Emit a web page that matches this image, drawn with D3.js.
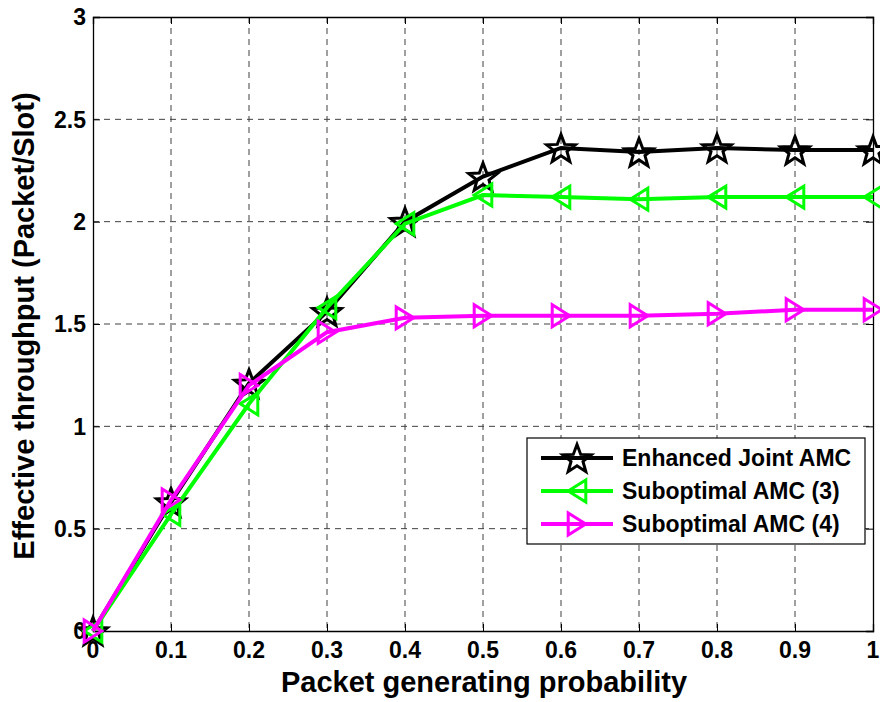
<!DOCTYPE html>
<html>
<head>
<meta charset="UTF-8">
<script src="https://cdn.jsdelivr.net/npm/d3@7"></script>
<style>
  body { margin: 0; background: #fff; }
  text { font-family: "Liberation Sans", Arial, sans-serif; font-weight: bold; }
</style>
</head>
<body>
<svg width="880" height="702"></svg>
<script>
// data
var prob = [0, 0.1, 0.2, 0.3, 0.4, 0.5, 0.6, 0.7, 0.8, 0.9, 1];
var enhanced = [0, 0.63, 1.21, 1.56, 2.0, 2.22, 2.36, 2.34, 2.36, 2.35, 2.35];
var subopt3 = [0, 0.57, 1.11, 1.58, 1.99, 2.13, 2.12, 2.11, 2.12, 2.12, 2.12];
var subopt4 = [0, 0.64, 1.20, 1.46, 1.53, 1.54, 1.54, 1.54, 1.55, 1.57, 1.57];
var xTicks = [0, 0.1, 0.2, 0.3, 0.4, 0.5, 0.6, 0.7, 0.8, 0.9, 1];
var yTicks = [0, 0.5, 1, 1.5, 2, 2.5, 3];
var names = ["Enhanced Joint AMC", "Suboptimal AMC (3)", "Suboptimal AMC (4)"];

var marge = {top: 17, left: 93, right: 7, bottom: 71};
var svg = d3.select("svg");
var width = +svg.attr("width"), height = +svg.attr("height");
var w = width - marge.left - marge.right;   // 780
var h = height - marge.top - marge.bottom;  // 614

var x = d3.scaleLinear().domain([0, 1]).range([0, w]);
var y = d3.scaleLinear().domain([0, 3]).range([h, 0]);

var g = svg.append("g").attr("transform", "translate(" + marge.left + "," + marge.top + ")");

// grid
g.selectAll(".gx").data(xTicks.slice(1, -1)).enter().append("line")
  .attr("x1", d => x(d)).attr("x2", d => x(d)).attr("y1", 0).attr("y2", h)
  .attr("stroke", "#404040").attr("stroke-width", 1).attr("stroke-dasharray", "6,5");
g.selectAll(".gy").data(yTicks.slice(1, -1)).enter().append("line")
  .attr("x1", 0).attr("x2", w).attr("y1", d => y(d)).attr("y2", d => y(d))
  .attr("stroke", "#404040").attr("stroke-width", 1).attr("stroke-dasharray", "6,5");

// axes (ticks inward, MATLAB style); labels drawn separately below
g.append("g").attr("transform", "translate(0," + h + ")")
  .call(d3.axisBottom(x).tickValues(xTicks).tickSize(-7).tickFormat(""));
g.append("g")
  .call(d3.axisLeft(y).tickValues(yTicks).tickSize(-7).tickFormat(""));
g.append("g").attr("transform", "translate(0,0)")
  .call(d3.axisTop(x).tickValues(xTicks).tickSize(-7).tickFormat(""));
g.append("g").attr("transform", "translate(" + w + ",0)")
  .call(d3.axisRight(y).tickValues(yTicks).tickSize(-7).tickFormat(""));
g.selectAll(".domain").attr("stroke", "#000").attr("stroke-width", 1.3);
g.selectAll(".tick line").attr("stroke", "#000");

// tick labels
g.selectAll(".xl").data(xTicks).enter().append("text")
  .attr("x", d => x(d)).attr("y", h + 27).attr("text-anchor", "middle")
  .style("font-size", "23px").text(d => d3.format("")(d));
g.selectAll(".yl").data(yTicks).enter().append("text")
  .attr("x", -7).attr("y", d => y(d)).attr("dy", "0.36em").attr("text-anchor", "end")
  .style("font-size", "23px").text(d => d3.format("")(d));

// axis labels
svg.append("text").attr("x", marge.left + w / 2 + 1).attr("y", 692)
  .attr("text-anchor", "middle").style("font-size", "29px").text("Packet generating probability");
svg.append("text").attr("transform", "translate(34," + (marge.top + h / 2 + 2) + ") rotate(-90)")
  .attr("text-anchor", "middle").style("font-size", "29px").text("Effective throughput (Packet/Slot)");

// markers
function star(r) {
  var pts = [];
  for (var i = 0; i < 10; i++) {
    var a = -Math.PI / 2 + i * Math.PI / 5;
    var rr = i % 2 ? r * 0.42 : r;
    pts.push([rr * Math.cos(a), rr * Math.sin(a) + r * 0.1]);
  }
  return "M" + pts.join("L") + "Z";
}
function triLeft(r) { return "M" + (-r * 0.8) + ",0L" + (r * 0.8) + "," + (-r) + "L" + (r * 0.8) + "," + r + "Z"; }
function triRight(r) { return "M" + (r * 0.8) + ",0L" + (-r * 0.8) + "," + (-r) + "L" + (-r * 0.8) + "," + r + "Z"; }

var series = [
  {vals: enhanced, color: "#000000", mark: star(15)},
  {vals: subopt3, color: "#00ff00", mark: triLeft(11)},
  {vals: subopt4, color: "#ff00ff", mark: triRight(11)}
];

var line = d3.line().x((d, i) => x(prob[i])).y(d => y(d));
series.forEach(function(s) {
  g.append("path").datum(s.vals).attr("d", line)
    .attr("fill", "none").attr("stroke", s.color).attr("stroke-width", 4);
  g.selectAll(null).data(s.vals).enter().append("path")
    .attr("transform", (d, i) => "translate(" + x(prob[i]) + "," + y(d) + ")")
    .attr("d", s.mark).attr("fill", "none").attr("stroke", s.color).attr("stroke-width", 3);
});

// legend
var lg = svg.append("g").attr("transform", "translate(527,438)");
lg.append("rect").attr("width", 338).attr("height", 106)
  .attr("fill", "#fff").attr("stroke", "#000").attr("stroke-width", 1.2);
series.forEach(function(s, i) {
  var ly = 20 + i * 33;
  lg.append("line").attr("x1", 14).attr("x2", 86).attr("y1", ly).attr("y2", ly)
    .attr("stroke", s.color).attr("stroke-width", 4);
  lg.append("path").attr("transform", "translate(50," + ly + ")").attr("d", s.mark)
    .attr("fill", "none").attr("stroke", s.color).attr("stroke-width", 3);
  lg.append("text").attr("x", 95).attr("y", ly).attr("dy", "0.36em")
    .style("font-size", "23px").text(names[i]);
});
</script>
</body>
</html>
